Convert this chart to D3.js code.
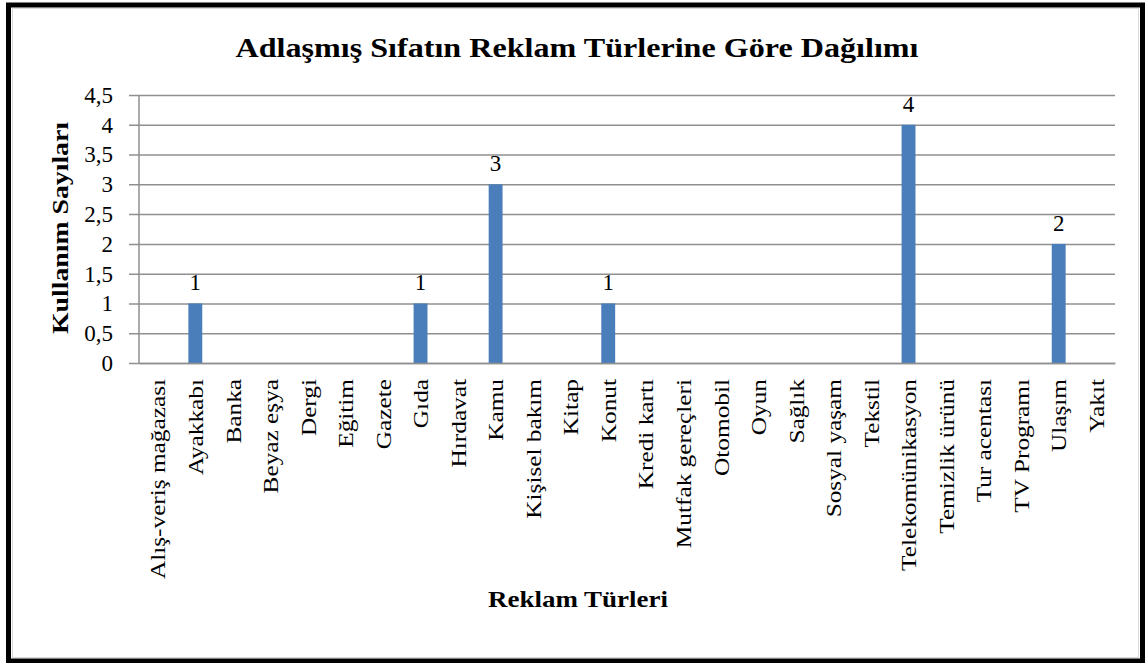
<!DOCTYPE html>
<html><head><meta charset="utf-8">
<script src="https://cdn.jsdelivr.net/npm/d3@7"></script>
<style>
html,body{margin:0;padding:0;background:#fff;}
svg text{font-family:"Liberation Serif","Times New Roman",serif !important;fill:#000;}
</style></head>
<body>
<svg id="chart" width="1146" height="663"></svg>
<script>
const categories = ["Alış-veriş mağazası","Ayakkabı","Banka","Beyaz eşya","Dergi","Eğitim","Gazete","Gıda","Hırdavat","Kamu","Kişisel bakım","Kitap","Konut","Kredi kartı","Mutfak gereçleri","Otomobil","Oyun","Sağlık","Sosyal yaşam","Tekstil","Telekomünikasyon","Temizlik ürünü","Tur acentası","TV Programı","Ulaşım","Yakıt"];
const values = [0,1,0,0,0,0,0,1,0,3,0,0,1,0,0,0,0,0,0,0,4,0,0,0,2,0];
const yTicks = [0,0.5,1,1.5,2,2.5,3,3.5,4,4.5];
const yTickLabels = ["0","0,5","1","1,5","2","2,5","3","3,5","4","4,5"];
const titleText = "Adlaşmış Sıfatın Reklam Türlerine Göre Dağılımı";
const xTitle = "Reklam Türleri";
const yTitle = "Kullanım Sayıları";

const svg = d3.select("#chart");
const SERIF = '"Liberation Serif","Times New Roman",serif';
// outer frame
svg.append("rect").attr("x",8.5).attr("y",5).attr("width",1134).attr("height",656)
  .attr("fill","#fff").attr("stroke","#000").attr("stroke-width",5);
svg.append("rect").attr("x",12.5).attr("y",8.5).attr("width",1126).attr("height",649)
  .attr("fill","none").attr("stroke","#d9d9d9").attr("stroke-width",1);

const plot = {left:139, right:1115, top:95, bottom:363};
const x = d3.scaleBand().domain(categories).range([plot.left, plot.right]).paddingInner(0.63).paddingOuter(0.315);
const y = d3.scaleLinear().domain([0,4.5]).range([plot.bottom, plot.top]);

// gridlines via axis
const yAxis = d3.axisLeft(y).tickValues(yTicks).tickSize(-(plot.right-plot.left)).tickFormat((d,i)=>yTickLabels[i]).tickPadding(26);
const gy = svg.append("g").attr("transform",`translate(${plot.left},0)`).call(yAxis);
gy.attr("font-family",SERIF);
gy.select(".domain").remove();
gy.selectAll(".tick line").attr("stroke","#8f8f8f").attr("stroke-width",1.5).attr("x1",-10);
gy.selectAll(".tick text").attr("font-size",23).style("font-family",SERIF).attr("fill","#000")
  .attr("y",0).attr("dy","0.32em");
// y axis line
svg.append("line").attr("x1",plot.left).attr("x2",plot.left).attr("y1",plot.top).attr("y2",plot.bottom)
  .attr("stroke","#8f8f8f").attr("stroke-width",1.5);

// bars
const barData = categories.map((c,i)=>({c,v:values[i]})).filter(d=>d.v>0);
svg.append("g").selectAll("rect").data(barData)
  .join("rect")
  .attr("x",d=>x(d.c)).attr("width",x.bandwidth())
  .attr("y",d=>y(d.v)).attr("height",d=>y(0)-y(d.v))
  .attr("fill","#4a7ebb");

// data labels
svg.append("g").selectAll("text").data(barData)
  .join("text")
  .attr("x",d=>x(d.c)+x.bandwidth()/2).attr("y",d=>y(d.v)-13)
  .attr("text-anchor","middle").attr("font-size",23).style("font-family",SERIF).text(d=>d.v);

// x axis
const xAxis = d3.axisBottom(x).tickSize(0).tickPadding(0);
const gx = svg.append("g").attr("transform",`translate(0,${plot.bottom})`).call(xAxis);
gx.attr("font-family",SERIF);
gx.select(".domain").attr("stroke","#8f8f8f").attr("stroke-width",1.5);
gx.selectAll(".tick text")
  .attr("font-size",22).style("font-family",SERIF).attr("fill","#000")
  .attr("text-anchor","end")
  .attr("transform","translate(0,16) rotate(-90) scale(1.15,1)")
  .attr("x",0).attr("y",0).attr("dy","0.35em");

// titles
svg.append("text").attr("x",577).attr("y",57).attr("text-anchor","middle")
  .attr("font-size",28).attr("font-weight","bold").style("font-family",SERIF)
  .attr("textLength",683).attr("lengthAdjust","spacingAndGlyphs").text(titleText);
svg.append("text").attr("x",578).attr("y",607).attr("text-anchor","middle")
  .attr("font-size",24).attr("font-weight","bold").style("font-family",SERIF)
  .attr("textLength",180).attr("lengthAdjust","spacingAndGlyphs").text(xTitle);
svg.append("text").attr("transform","translate(68,228) rotate(-90)").attr("text-anchor","middle")
  .attr("font-size",24).attr("font-weight","bold").style("font-family",SERIF)
  .attr("textLength",212).attr("lengthAdjust","spacingAndGlyphs").text(yTitle);
</script>
</body></html>
